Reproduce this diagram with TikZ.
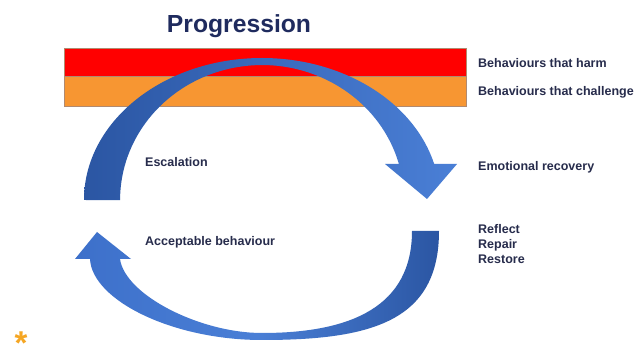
\documentclass[tikz,border=0pt]{standalone}
\usepackage{fontspec}
\setmainfont{Liberation Sans}
\definecolor{titlenavy}{HTML}{1F2B5E}
\definecolor{labelnavy}{HTML}{272C4C}
\definecolor{harmred}{HTML}{FF0000}
\definecolor{challengeorange}{HTML}{F79632}
\definecolor{bandedge}{HTML}{B08A70}
\definecolor{blueDark}{HTML}{2B56A3}
\definecolor{blueMid}{HTML}{3D70CA}
\definecolor{blueLight}{HTML}{4A7FD6}
\definecolor{starorange}{HTML}{F5A623}
\begin{document}
\begin{tikzpicture}[x=1pt,y=1pt,
  title/.style={font=\bfseries\fontsize{24.7}{28}\selectfont, text=titlenavy, inner sep=0pt, anchor=base},
  lbl/.style={font=\bfseries\fontsize{12.5}{15}\selectfont, text=labelnavy, inner sep=0pt, anchor=base west},
  band/.style={draw=bandedge, line width=0.6pt, minimum width=402pt, inner sep=0pt},
  risearrow/.style={draw=none, left color=blueDark, right color=blueLight},
  fallarrow/.style={draw=none, left color=blueMid, right color=blueDark, middle color=blueLight},
]
\useasboundingbox (0,0) rectangle (635,345);
\fill[white] (0,0) rectangle (635,345);

% heading
\node[title] (title) at (239,312) {Progression};

% the two behaviour bands
\node[band, fill=harmred, minimum height=28pt] (harmband) at (265,283) {};
\node[band, fill=challengeorange, minimum height=30pt] (challengeband) at (265,254) {};

% upper curved arrow: escalation over the top, down to recovery
\path[risearrow] (84,145)
  arc[start angle=180, end angle=14.7, x radius=178, y radius=142]
  -- (457,181) -- (427,146) -- (385,181) -- (398.9,181)
  arc[start angle=15.5, end angle=180, x radius=142, y radius=135]
  -- cycle;

% lower curved arrow: back round to acceptable behaviour
\path[fallarrow] (412,114) -- (439,114)
  .. controls (439,24) and (372,5) .. (262,5)
  .. controls (172,5) and (92,45) .. (90,86)
  -- (75,86) -- (97,113) -- (131,86) -- (120,86)
  .. controls (125,50) and (200,12) .. (262,12)
  .. controls (352,12) and (412,39) .. (412,114)
  -- cycle;

% labels
\node[lbl] (harmlbl) at (478,277) {Behaviours that harm};
\node[lbl] (challengelbl) at (478,249) {Behaviours that challenge};
\node[lbl] (recovery) at (478,174) {Emotional recovery};
\node[lbl, anchor=north west, align=left] (restore) at (478,120.5) {Reflect\\Repair\\Restore};
\node[lbl] (escalation) at (145,178) {Escalation};
\node[lbl] (acceptable) at (145,99) {Acceptable behaviour};

% footnote mark
\node[font=\bfseries\fontsize{33}{33}\selectfont, text=starorange, inner sep=0pt, anchor=base] (star) at (21,-10) {*};
\end{tikzpicture}
\end{document}
